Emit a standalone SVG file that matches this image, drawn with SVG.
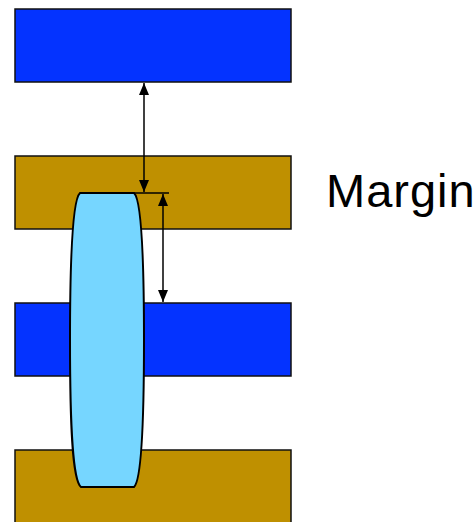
<svg xmlns="http://www.w3.org/2000/svg" width="476" height="522" viewBox="0 0 476 522">
  <style>
    .layer { stroke: #111; stroke-width: 1.5; }
    .metal { fill: #0433FF; }
    .poly { fill: #BF9000; }
    .via { fill: #76D6FF; stroke: #000; stroke-width: 2; }
    .dim { stroke: #000; stroke-width: 1.5; fill: none; }
    .label { font-family: "Liberation Sans", Arial, sans-serif; font-size: 47px; letter-spacing: 1px; fill: #000; }
  </style>
  <defs>
    <marker id="tip" viewBox="0 0 12 10" refX="12" refY="5" markerWidth="12" markerHeight="10" markerUnits="userSpaceOnUse" orient="auto-start-reverse">
      <path d="M0,0 L12,5 L0,10 Z" fill="#000"/>
    </marker>
  </defs>

  <g id="layer-metal-1"><rect class="layer metal" x="15" y="9" width="276" height="73"/></g>
  <g id="layer-poly-1"><rect class="layer poly" x="15" y="156" width="276" height="73"/></g>
  <g id="layer-metal-2"><rect class="layer metal" x="15" y="303" width="276" height="73"/></g>
  <g id="layer-poly-2"><rect class="layer poly" x="15" y="450" width="276" height="80"/></g>

  <g id="via">
    <path class="via" d="M80,193 L134,193 C142,200 144,260 144,340 C144,420 142,480 134,487 L81,487 C72,480 70,420 70,340 C70,260 72,200 80,193 Z"/>
  </g>

  <g id="connectors">
    <line class="dim" x1="80" y1="193" x2="169" y2="193"/>
    <line class="dim" x1="144" y1="83" x2="144" y2="192" marker-start="url(#tip)" marker-end="url(#tip)"/>
    <line class="dim" x1="163" y1="194" x2="163" y2="302" marker-start="url(#tip)" marker-end="url(#tip)"/>
  </g>

  <g id="margin-label"><text class="label" x="326" y="207">Margin</text></g>
</svg>
